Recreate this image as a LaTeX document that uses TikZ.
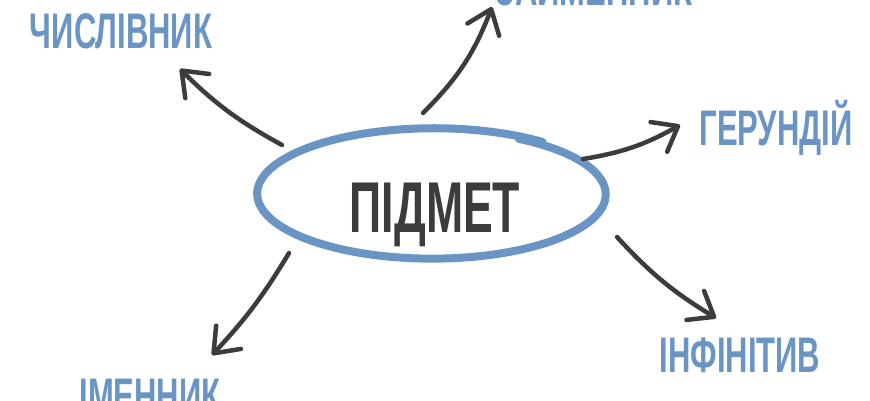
\documentclass[tikz,border=0pt]{standalone}
\usepackage{fontspec}
\newfontfamily\cond[FakeStretch=0.62]{Liberation Sans}
\usetikzlibrary{arrows.meta}
\definecolor{lblue}{HTML}{6A94C3}
\definecolor{dark}{HTML}{3C3C3C}
\tikzset{
  lbl/.style={anchor=base, inner sep=0, text=lblue, font=\cond\bfseries\fontsize{50}{50}\selectfont},
  subj/.style={anchor=base, inner sep=0, text=dark, font=\cond\bfseries\fontsize{72}{72}\selectfont},
  arr/.style={draw=dark, line width=4.5, line cap=round, -{Straight Barb[round, length=22pt, width=34pt]}},
  ring/.style={draw=lblue, line width=8, line cap=round, line join=round}
}
\begin{document}
\begin{tikzpicture}[x=1pt,y=-1pt]
\useasboundingbox (0,0) rectangle (870,400);
\clip (0,0) rectangle (870,400);
\fill[white] (0,0) rectangle (870,400);
% labels
\node[lbl] (chysl) at (121,48) {ЧИСЛІВНИК};
\node[lbl] (zaim) at (594,5) {ЗАЙМЕННИК};
\node[lbl] (gerund) at (776,145) {ГЕРУНДІЙ};
\node[lbl] (infin) at (740,372) {ІНФІНІТИВ};
\node[lbl] (imen) at (150,413) {ІМЕННИК};
\node[subj] (pidmet) at (435,232) {ПІДМЕТ};
% hand-drawn ring
\draw[ring] plot[domain=300:668, samples=120, smooth]
  ({433+178*(0.965+0.035*(\x-300)/368)*cos(\x)}, {194+66*(0.965+0.035*(\x-300)/368)*sin(\x)});
% connector start and end points
\coordinate (s1) at (282,145); \coordinate (e1) at (180,69);
\coordinate (s2) at (423,113); \coordinate (e2) at (492,7);
\coordinate (s3) at (583,159); \coordinate (e3) at (680,125);
\coordinate (s4) at (617,237); \coordinate (e4) at (716,318);
\coordinate (s5) at (289,253); \coordinate (e5) at (212,355);
\draw[arr] (s1) to[bend left=8] (e1);
\draw[arr] (s2) to[bend right=12] (e2);
\draw[arr] (s3) to[bend right=10] (e3);
\draw[arr] (s4) to[bend right=8] (e4);
\draw[arr] (s5) to[bend left=6] (e5);
\end{tikzpicture}
\end{document}
